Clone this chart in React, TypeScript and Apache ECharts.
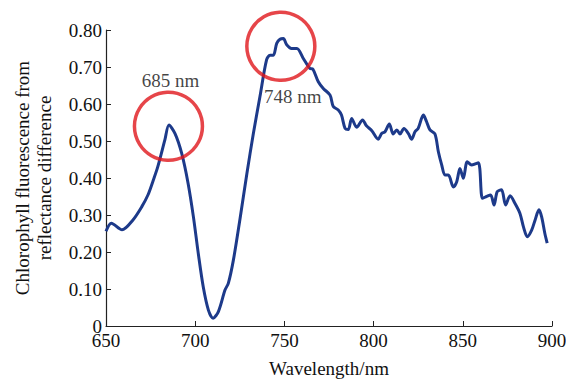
import React, { useEffect, useRef } from "react";
import * as echarts from "echarts";

const wavelengths = [
  650, 653, 659, 665, 670, 673.5, 676.5, 679, 683, 685.3, 688.7, 692.4, 696, 699, 701.7, 704.5, 707.4, 710,
  713, 716.7, 718.6, 721.4, 725, 729, 732.6, 736.3, 740, 742, 743.8, 745.7, 747.5, 749.4, 751.3, 754, 757,
  760.6, 764.3, 766, 769, 771.8, 775.6, 777.4, 780.2, 782, 784, 785.8, 787.7, 790.5, 793.8, 796, 799, 802.6,
  804.5, 806.4, 808.8, 811, 813, 814.8, 817, 819.5, 821.3, 823.2, 825, 827.9, 829.7, 831.6, 834.4, 836.3,
  838.2, 840, 841.9, 844.7, 846.6, 848.4, 850.3, 852.5, 855, 858.7, 861, 863.3, 865.6, 867.5, 869.3, 871.7,
  874, 876.5, 879.2, 882, 884, 886.2, 888.6, 890.5, 892.7, 894.2, 896, 897.3,
];
const fluorescence = [
  0.256, 0.278, 0.26, 0.286, 0.322, 0.354, 0.394, 0.43, 0.503, 0.543, 0.52, 0.467, 0.386, 0.295, 0.197, 0.106,
  0.043, 0.021, 0.039, 0.097, 0.116, 0.178, 0.286, 0.413, 0.52, 0.62, 0.719, 0.732, 0.732, 0.764, 0.775, 0.777,
  0.76, 0.75, 0.75, 0.723, 0.696, 0.694, 0.66, 0.642, 0.624, 0.593, 0.584, 0.57, 0.534, 0.531, 0.561, 0.537,
  0.557, 0.541, 0.528, 0.505, 0.52, 0.525, 0.546, 0.519, 0.53, 0.519, 0.534, 0.52, 0.505, 0.525, 0.534, 0.57,
  0.552, 0.53, 0.519, 0.471, 0.435, 0.408, 0.408, 0.376, 0.39, 0.426, 0.399, 0.444, 0.435, 0.441, 0.345, 0.35,
  0.354, 0.327, 0.363, 0.368, 0.327, 0.352, 0.332, 0.305, 0.268, 0.241, 0.259, 0.286, 0.314, 0.295, 0.25, 0.224,
];
const peakWavelengths = [685, 748];
const peakCircleValues = [0.54, 0.756];
const peakLabels = ["685 nm", "748 nm"];

const FONT = "'Liberation Serif', 'Times New Roman', serif";
const TEXT = "#111";

export default function App() {
  const ref = useRef<HTMLDivElement>(null);
  useEffect(() => {
    if (!ref.current) return;
    const chart = echarts.init(ref.current, null, { renderer: "svg" });
    const lineData = wavelengths.map((w, i) => [w, fluorescence[i]]);
    const labelOffsets = [
      [2, -46],
      [12, 50],
    ];
    chart.setOption({
      animation: false,
      textStyle: { fontFamily: FONT },
      grid: { left: 106, right: 14, top: 30, bottom: 54, containLabel: false, outerBoundsMode: "none" },
      xAxis: {
        type: "value",
        min: 650,
        max: 900,
        interval: 50,
        name: "Wavelength/nm",
        nameLocation: "middle",
        nameGap: 33,
        nameTextStyle: { fontFamily: FONT, fontSize: 19, color: TEXT },
        axisLine: { show: true, lineStyle: { color: "#222", width: 1.2 } },
        axisTick: { show: true, inside: true, length: 5, lineStyle: { color: "#222" } },
        axisLabel: { fontFamily: FONT, fontSize: 19, color: TEXT, margin: 5 },
        splitLine: { show: false },
      },
      yAxis: {
        type: "value",
        min: 0,
        max: 0.8,
        interval: 0.1,
        name: "Chlorophyll fluorescence from\nreflectance difference",
        nameLocation: "middle",
        nameGap: 51,
        nameTextStyle: { fontFamily: FONT, fontSize: 19, color: TEXT, lineHeight: 22 },
        axisLine: { show: true, lineStyle: { color: "#222", width: 1.2 } },
        axisTick: { show: true, inside: true, length: 5, lineStyle: { color: "#222" } },
        axisLabel: {
          fontFamily: FONT,
          fontSize: 19,
          color: TEXT,
          margin: 4,
          formatter: (v: number) => (v === 0 ? "0" : v.toFixed(2)),
        },
        splitLine: { show: false },
      },
      series: [
        {
          type: "line",
          data: lineData,
          showSymbol: false,
          smooth: 0.3,
          lineStyle: { color: "#1d3a8a", width: 3 },
          z: 2,
        },
        {
          type: "scatter",
          data: peakWavelengths.map((w, i) => ({
            value: [w, peakCircleValues[i]],
            label: {
              show: true,
              formatter: peakLabels[i],
              position: "inside",
              offset: labelOffsets[i],
              fontFamily: FONT,
              fontSize: 19,
              color: TEXT,
            },
          })),
          symbol: "circle",
          symbolSize: 68,
          itemStyle: { color: "rgba(0,0,0,0)", borderColor: "#e0161b", borderWidth: 3.5 },
          z: 3,
        },
      ],
    });
    return () => chart.dispose();
  }, []);
  return <div ref={ref} style={{ position: "absolute", left: 0, top: 0, width: 566, height: 380 }} />;
}
